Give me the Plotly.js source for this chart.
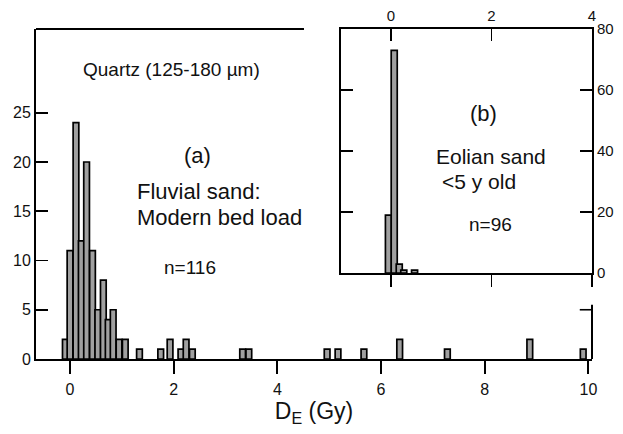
<!DOCTYPE html>
<html>
<head>
<meta charset="utf-8">
<script src="https://cdn.plot.ly/plotly-3.0.1.min.js"></script>
<style>html,body{margin:0;padding:0;background:#fff;}#chart{width:623px;height:434px;}</style>
</head>
<body>
<div id="chart"></div>
<script>
// Main histogram (a): fluvial sand, D_E bins (Gy) and counts
const mainBins = [-0.09, 0.0, 0.115, 0.218, 0.32, 0.434, 0.537, 0.643, 0.737, 0.833, 0.946, 1.066,
                  1.34, 1.75, 1.93, 2.14, 2.24, 2.36, 3.33, 3.45, 4.96, 5.17, 5.67, 6.36, 7.28, 8.87, 9.90];
const mainCounts = [2, 11, 24, 12, 20, 11, 5, 8, 4, 5, 2, 2,
                    1, 1, 2, 1, 2, 1, 1, 1, 1, 1, 1, 2, 1, 2, 1];
// Inset histogram (b): eolian sand
const insetBins = [-0.05, 0.065, 0.165, 0.255, 0.47];
const insetCounts = [19, 73, 3, 1, 1];

const mainTicks = [0, 2, 4, 6, 8, 10];
const mainYTicks = [0, 5, 10, 15, 20, 25];
const insetXTicks = [0, 2, 4];
const insetYTicks = [0, 20, 40, 60, 80];

const FONT = 'Liberation Sans, Arial, Helvetica, sans-serif';
const INK = '#111111';

const traces = [
  {type: 'bar', x: mainBins, y: mainCounts, width: 0.11, xaxis: 'x', yaxis: 'y',
   marker: {color: '#a0a0a0', line: {color: '#000', width: 1.7}}, hoverinfo: 'skip'},
  {type: 'bar', x: insetBins, y: insetCounts, width: 0.12, xaxis: 'x2', yaxis: 'y2',
   marker: {color: '#a0a0a0', line: {color: '#000', width: 1.7}}, hoverinfo: 'skip'},
  {type: 'scatter', mode: 'markers', x: [0], y: [0], xaxis: 'x3', yaxis: 'y2', showlegend: false,
   marker: {opacity: 0, size: 1}, hoverinfo: 'skip'}
];

function note(text, x, y, size, xanchor) {
  return {text: text, xref: 'paper', yref: 'paper', x: x, y: y,
          xanchor: xanchor || 'center', yanchor: 'middle', showarrow: false,
          font: {size: size, family: FONT, color: INK}};
}

const layout = {
  width: 623, height: 434,
  margin: {l: 36, r: 31, t: 29, b: 75},
  paper_bgcolor: '#fff', plot_bgcolor: '#fff',
  showlegend: false, bargap: 0,
  font: {family: FONT, color: INK, size: 16},
  xaxis: {
    domain: [0, 1], anchor: 'y', range: [-0.656, 10.07],
    tickvals: mainTicks, ticks: 'outside', ticklen: 13, tickwidth: 2, tickcolor: '#000',
    showline: true, linewidth: 2, linecolor: '#000', showgrid: false, zeroline: false,
    tickfont: {size: 16, family: FONT, color: INK}, ticklabelstandoff: 2,
    title: {text: 'D<sub>E</sub> (Gy)', font: {size: 23, family: FONT, color: INK}, standoff: 6}
  },
  yaxis: {
    domain: [0, 1], anchor: 'x', range: [0, 33.5],
    tickvals: mainYTicks, ticks: 'inside', ticklen: 12, tickwidth: 1.6, tickcolor: '#000',
    showline: true, linewidth: 2, linecolor: '#000', showgrid: false, zeroline: false,
    tickfont: {size: 16, family: FONT, color: INK}
  },
  xaxis2: {
    domain: [0.548, 1], anchor: 'y2', range: [-1, 4], side: 'top',
    tickvals: insetXTicks, ticks: 'inside', ticklen: 12, tickwidth: 1.6, tickcolor: '#000',
    showline: true, mirror: true, linewidth: 2, linecolor: '#000', showgrid: false, zeroline: false,
    tickfont: {size: 15, family: FONT, color: INK}
  },
  xaxis3: {
    overlaying: 'x2', anchor: 'y2', range: [-1, 4], side: 'bottom',
    tickvals: insetXTicks, ticks: 'outside', ticklen: 13, tickwidth: 1.6, tickcolor: '#000',
    showticklabels: false, showline: false, showgrid: false, zeroline: false
  },
  yaxis2: {
    domain: [0.26, 1], anchor: 'x2', range: [0, 80], side: 'right',
    tickvals: insetYTicks, ticks: 'inside', ticklen: 12, tickwidth: 1.6, tickcolor: '#000',
    showline: true, mirror: 'ticks', linewidth: 2, linecolor: '#000', showgrid: false, zeroline: false,
    tickfont: {size: 15, family: FONT, color: INK}
  },
  shapes: [
    {type: 'line', xref: 'x domain', yref: 'y domain', x0: 0, x1: 0.482, y0: 1, y1: 1,
     line: {color: '#000', width: 2}},
    {type: 'line', xref: 'x domain', yref: 'y', x0: 1, x1: 1, y0: 0, y1: 5.5,
     line: {color: '#000', width: 2}},
    {type: 'line', xref: 'x domain', yref: 'y', x0: 0.978, x1: 1, y0: 5, y1: 5,
     line: {color: '#000', width: 1.6}}
  ],
  annotations: [
    note('Quartz (125-180 µm)', 0.244, 0.876, 19),
    note('(a)', 0.29, 0.618, 22),
    note('Fluvial sand:', 0.178, 0.509, 22, 'left'),
    note('Modern bed load', 0.178, 0.43, 22, 'left'),
    note('n=116', 0.277, 0.276, 19),
    note('(b)', 0.804, 0.745, 22),
    note('Eolian sand', 0.818, 0.615, 21),
    note('&lt;5 y old', 0.796, 0.539, 21),
    note('n=96', 0.817, 0.409, 19)
  ]
};

Plotly.newPlot('chart', traces, layout, {displayModeBar: false, staticPlot: true});
</script>
</body>
</html>
